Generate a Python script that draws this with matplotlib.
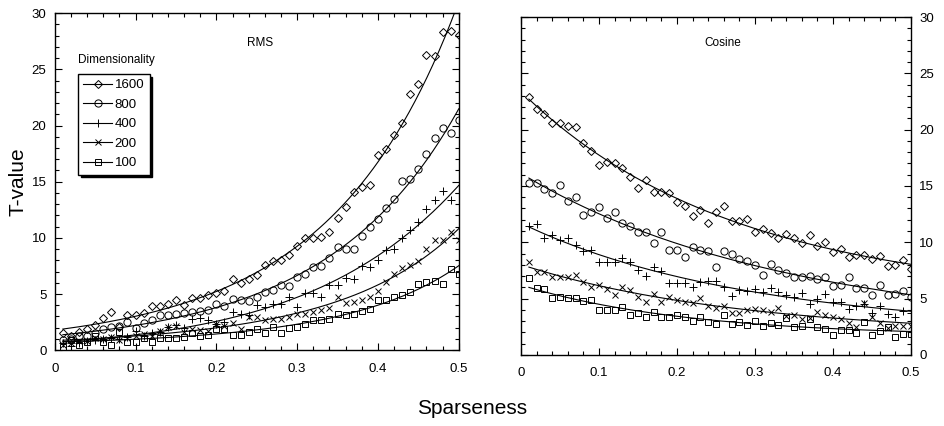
import numpy as np
import matplotlib
matplotlib.use("Agg")
import matplotlib.pyplot as plt
from matplotlib.ticker import MultipleLocator
from matplotlib.lines import Line2D

plt.rcParams['font.family'] = ['Liberation Sans', 'DejaVu Sans']

sparseness = np.round(np.arange(1, 51) * 0.01, 2)
dims = ["1600", "800", "400", "200", "100"]

rms_1600 = [1.5, 1.3, 1.6, 1.85, 2.2, 2.85, 3.4, 2.1, 3.1, 3.15, 3.3, 3.95, 3.9, 4.1, 4.45, 4.05, 4.65, 4.65, 4.95, 5.1,
            5.3, 6.3, 5.95, 6.35, 6.65, 7.6, 7.95, 8.0, 8.45, 9.3, 10.0, 9.95, 10.05, 10.55, 11.8, 12.75, 14.1, 14.5, 14.7, 17.4,
            17.9, 19.2, 20.2, 22.8, 23.7, 26.3, 26.2, 28.3, 28.4, 28.1]
rms_800 = [0.9, 1.0, 1.25, 1.3, 1.5, 1.9, 2.1, 2.15, 2.5, 1.95, 2.4, 2.7, 3.1, 3.1, 3.25, 3.3, 3.4, 3.45, 3.6, 4.1,
           3.9, 4.6, 4.45, 4.4, 4.75, 5.2, 5.4, 5.8, 5.7, 6.5, 6.8, 7.4, 7.5, 8.25, 9.2, 9.05, 9.0, 10.2, 11.0, 11.7,
           12.7, 13.5, 15.1, 15.2, 16.1, 17.5, 18.9, 19.8, 19.3, 20.5]
rms_400 = [0.6, 0.4, 0.6, 0.8, 0.9, 1.0, 1.05, 1.0, 1.2, 1.7, 1.3, 1.5, 1.6, 2.1, 2.2, 2.0, 2.8, 2.85, 2.7, 2.3,
           2.5, 3.4, 3.25, 3.1, 4.0, 3.85, 4.1, 4.1, 4.7, 3.85, 5.05, 5.1, 4.75, 5.8, 5.8, 6.4, 6.3, 7.5, 7.4, 8.0,
           8.9, 9.05, 10.0, 10.7, 11.4, 12.6, 13.4, 14.2, 13.4, 14.0]
rms_200 = [0.5, 0.6, 0.85, 0.8, 1.1, 1.0, 1.2, 0.9, 1.1, 1.3, 1.4, 1.3, 1.75, 2.05, 2.15, 1.6, 1.9, 1.8, 1.75, 2.3,
           2.15, 2.4, 1.9, 2.95, 2.95, 2.65, 2.8, 2.8, 2.95, 3.25, 3.25, 3.4, 3.55, 3.75, 4.7, 4.2, 4.3, 4.5, 4.75, 5.3,
           6.1, 6.8, 7.3, 7.6, 7.9, 9.05, 9.85, 9.8, 10.5, 9.8]
rms_100 = [0.3, 0.95, 0.45, 0.75, 1.25, 0.75, 0.45, 1.6, 0.75, 0.75, 1.05, 0.7, 1.05, 1.05, 1.05, 1.15, 1.55, 1.25, 1.35, 1.9,
           1.9, 1.35, 1.35, 1.65, 1.85, 1.5, 2.1, 1.5, 2.0, 2.1, 2.3, 2.65, 2.7, 2.8, 3.2, 3.1, 3.25, 3.5, 3.7, 4.5,
           4.5, 4.75, 4.9, 5.2, 5.9, 6.1, 6.2, 5.9, 7.25, 6.8]

cos_1600 = [22.9, 21.8, 21.4, 20.6, 20.6, 20.3, 20.25, 18.8, 18.1, 16.9, 17.1, 17.0, 16.6, 15.8, 14.85, 15.55, 14.5, 14.5, 14.4, 13.6,
            13.2, 12.3, 12.9, 11.7, 12.65, 13.2, 11.9, 11.9, 12.1, 10.9, 11.2, 10.85, 10.35, 10.7, 10.35, 9.9, 10.65, 9.7, 10.0, 9.1,
            9.4, 8.7, 8.9, 8.9, 8.5, 8.8, 7.85, 8.0, 8.4, 7.6]
cos_800 = [15.3, 15.3, 14.7, 14.4, 15.1, 13.65, 14.0, 12.4, 12.7, 13.15, 12.15, 12.7, 11.7, 11.4, 10.95, 10.95, 9.97, 10.95, 9.32, 9.32,
           8.67, 9.6, 9.35, 9.2, 7.84, 9.25, 8.96, 8.5, 8.35, 7.98, 7.1, 8.05, 7.55, 7.25, 6.95, 6.95, 7.0, 6.74, 6.9, 6.12,
           6.2, 6.95, 5.92, 5.92, 5.33, 6.2, 5.33, 5.38, 5.68, 5.12]
cos_400 = [11.45, 11.6, 10.4, 10.65, 10.2, 10.35, 9.77, 9.26, 9.32, 8.28, 8.28, 8.28, 8.6, 8.28, 7.54, 7.0, 7.84, 7.45, 6.36, 6.42,
           6.42, 6.06, 6.5, 6.55, 6.6, 6.06, 5.23, 5.77, 5.71, 5.83, 5.6, 5.9, 5.6, 5.3, 5.16, 5.45, 4.52, 4.94, 5.42, 4.73,
           4.73, 4.06, 4.35, 4.52, 3.7, 4.35, 3.64, 3.4, 3.9, 3.76]
cos_200 = [8.28, 7.4, 7.4, 6.95, 6.95, 6.9, 7.1, 6.5, 6.0, 6.2, 5.83, 5.33, 6.0, 5.77, 5.16, 4.73, 5.42, 4.65, 5.1, 4.87,
           4.65, 4.59, 5.05, 4.35, 4.2, 4.35, 3.76, 3.76, 4.0, 4.06, 3.94, 3.85, 4.13, 3.46, 3.55, 3.16, 3.3, 3.85, 3.55, 3.4,
           3.16, 2.86, 2.5, 4.6, 3.34, 2.8, 2.36, 2.57, 2.57, 2.57]
cos_100 = [6.8, 5.9, 5.83, 5.03, 5.1, 5.03, 5.03, 4.8, 4.9, 4.0, 4.0, 4.0, 4.22, 3.55, 3.7, 3.34, 3.85, 3.4, 3.34, 3.55,
           3.4, 3.05, 3.4, 2.96, 2.7, 3.55, 2.76, 2.96, 2.66, 3.05, 2.57, 2.8, 2.66, 3.25, 2.45, 2.57, 3.16, 2.45, 2.27, 1.77,
           2.21, 2.21, 1.92, 2.96, 1.77, 2.15, 2.45, 1.56, 1.86, 1.86]

rms_series = [rms_1600, rms_800, rms_400, rms_200, rms_100]
cos_series = [cos_1600, cos_800, cos_400, cos_200, cos_100]

markers = [dict(marker='D', ms=3.8), dict(marker='o', ms=5.2), dict(marker='+', ms=6),
           dict(marker='x', ms=4.8), dict(marker='s', ms=5.0)]

fig = plt.figure(figsize=(9.44, 4.26), dpi=100)
axL = fig.add_axes([0.058, 0.178, 0.428, 0.791])
axR = fig.add_axes([0.552, 0.167, 0.413, 0.793])


def fit_curve(x, y):
    x = np.asarray(x)
    y = np.asarray(y, dtype=float)
    coef = np.polyfit(x, np.log(y), 2, w=np.sqrt(y))
    xs = np.linspace(x.min(), x.max(), 200)
    return xs, np.exp(np.polyval(coef, xs))


for ax, series in ((axL, rms_series), (axR, cos_series)):
    for vals, mk, lab in zip(series, markers, dims):
        ax.plot(sparseness, vals, linestyle='none', color='black', mfc='none',
                mec='black', mew=0.7, label=lab, **mk)
        xs, ys = fit_curve(sparseness, vals)
        ax.plot(xs, ys, color='black', lw=0.8)
    ax.set_xlim(0, 0.5)
    ax.set_ylim(0, 30)
    ax.xaxis.set_major_locator(MultipleLocator(0.1))
    ax.xaxis.set_minor_locator(MultipleLocator(0.02))
    ax.yaxis.set_major_locator(MultipleLocator(5))
    ax.yaxis.set_minor_locator(MultipleLocator(1))
    ax.tick_params(which='both', direction='in', top=True, bottom=True, left=True, right=True,
                   labelsize=9.5, width=0.8, color='black')
    ax.tick_params(which='major', length=5)
    ax.tick_params(which='minor', length=3)
    ax.tick_params(axis='x', which='major', pad=9)
    ax.tick_params(axis='y', which='major', pad=6)
    ax.set_xticks([0, 0.1, 0.2, 0.3, 0.4, 0.5])
    ax.set_xticklabels(["0", "0.1", "0.2", "0.3", "0.4", "0.5"])
    for s in ax.spines.values():
        s.set_linewidth(1.0)

axR.tick_params(labelleft=False, labelright=True)

axL.text(0.508, 0.912, "RMS", transform=axL.transAxes, ha='center', va='center', fontsize=8.5)
axR.text(0.518, 0.922, "Cosine", transform=axR.transAxes, ha='center', va='center', fontsize=8.5)

handles = [Line2D([], [], color='black', lw=0.8, mfc='none', mec='black', mew=0.7, **mk) for mk in markers]
leg = axL.legend(handles, dims, loc='upper left', bbox_to_anchor=(0.057, 0.82),
                 frameon=True, fancybox=False, fontsize=9.5, handlelength=2.2,
                 handletextpad=0.2, labelspacing=0.55, borderpad=0.4, borderaxespad=0,
                 shadow={'ox': 2, 'oy': -2, 'color': 'black', 'alpha': 1.0})
leg.get_frame().set_edgecolor('black')
leg.get_frame().set_linewidth(1.0)
axL.text(0.058, 0.862, "Dimensionality", transform=axL.transAxes, ha='left', va='center', fontsize=8.5)

fig.text(0.019, 0.573, "T-value", rotation=90, ha='center', va='center', fontsize=15)
fig.text(0.5, 0.042, "Sparseness", ha='center', va='center', fontsize=15)

fig.savefig("out.png", dpi=100)
